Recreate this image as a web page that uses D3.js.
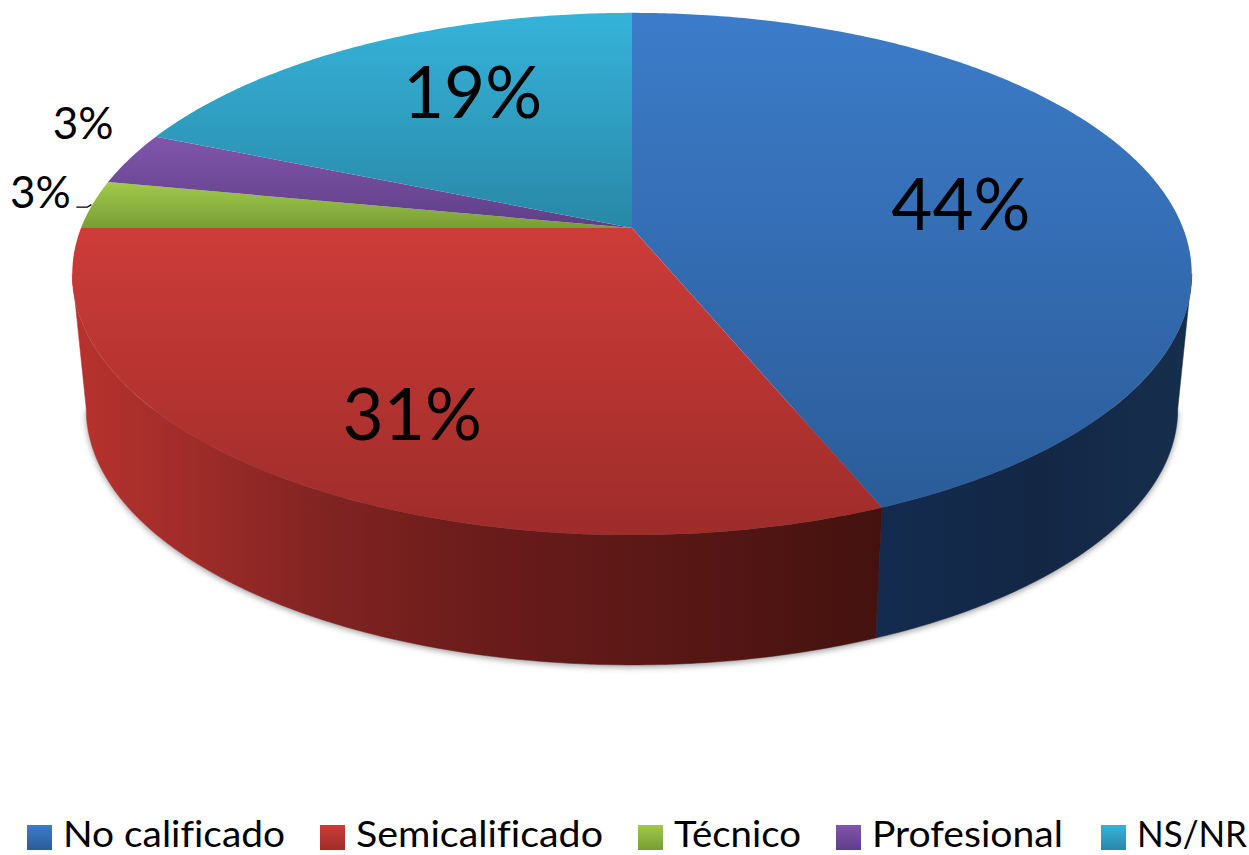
<!DOCTYPE html>
<html>
<head>
<meta charset="utf-8">
<script src="https://cdn.jsdelivr.net/npm/d3@7"></script>
<style>
  html, body { margin: 0; padding: 0; background: #fff; overflow: hidden; }
  text { font-family: Lato, "Open Sans", sans-serif; fill: #000; font-variant-ligatures: none; }
</style>
</head>
<body>
<div id="chart"></div>
<script>
var categories = ['No calificado', 'Semicalificado', 'Técnico', 'Profesional', 'NS/NR'];
var values = [43.8, 31.2, 3.0, 3.3, 18.7];
var topColours = ['#3c7cca', '#cd3c38', '#a2c94a', '#8156ac', '#36b3da'];
var lowColours = ['#2b5c99', '#9e2c2a', '#789e34', '#5e3e86', '#2888a7'];

var width = 1249,
    height = 855,
    cx = 632,
    cy = 228,
    persp = 0.176,      // foreshortening of the disc
    radiusX = 551,
    radiusY = 253,
    depth = 136,
    rimScaleX = 0.975,
    rimScaleY = 0.98;

// label placement, not data
var labelRadius = [0.6, 0.6, 1.1, 1.1, 0.6],
    labelNudge = [[11, 6], [-18, 49], [1, -10], [1, -28], [9, -19]],
    labelSize = [71, 71, 44, 44, 71],
    legendSwatchX = [27, 320, 638, 836, 1101],
    legendTextLength = [222, 247, 127, 191, 110];

var x = d3.scaleLinear().domain([-1, 1]).range([cx - radiusX, cx + radiusX]);
var y = d3.scaleLinear().domain([-1, 1]).range([cy - radiusY, cy + radiusY]);

// unit disc point -> screen, with a bit of perspective
function project(angle, r) {
  var u = Math.sin(angle) * r,
      v = -Math.cos(angle) * r,
      w = 1 - persp * v;
  return [x(u / w), y(v / w)];
}

function projectLow(angle) {
  var p = project(angle, 1);
  return [cx + rimScaleX * (p[0] - cx), cy + depth + rimScaleY * (p[1] - cy)];
}

function arcPoints(a0, a1, fn) {
  var n = Math.max(2, Math.ceil(Math.abs(a1 - a0) / 0.01)),
      pts = [];
  for (var i = 0; i <= n; i++) pts.push(fn(a0 + (a1 - a0) * i / n));
  return pts;
}

var line = d3.line();
var pie = d3.pie().sort(null).value(function(d) { return d; });
var slices = pie(values);

// where the disc is at its widest, the wall starts there
var wallFrom = Math.PI - Math.acos(persp),
    wallTo = Math.PI + Math.acos(persp);

var svg = d3.select('#chart').append('svg')
    .attr('width', width)
    .attr('height', height)
    .style('display', 'block');

var defs = svg.append('defs');

categories.forEach(function(c, i) {
  var g = defs.append('linearGradient')
      .attr('id', 'face' + i)
      .attr('x1', 0).attr('y1', 0).attr('x2', 0).attr('y2', 1);
  g.append('stop').attr('offset', 0).attr('stop-color', topColours[i]);
  g.append('stop').attr('offset', 1).attr('stop-color', lowColours[i]);
});

var redWall = defs.append('linearGradient')
    .attr('id', 'wall1')
    .attr('gradientUnits', 'userSpaceOnUse')
    .attr('x1', 75).attr('y1', 0).attr('x2', 880).attr('y2', 0);
[[0, '#b8322e'], [0.15, '#9e2c29'], [0.3, '#822422'], [0.5, '#6b1c1b'], [0.75, '#581715'], [1, '#44120e']].forEach(function(s) {
  redWall.append('stop').attr('offset', s[0]).attr('stop-color', s[1]);
});

var blueWall = defs.append('linearGradient')
    .attr('id', 'wall0')
    .attr('gradientUnits', 'userSpaceOnUse')
    .attr('x1', 880).attr('y1', 0).attr('x2', 1190).attr('y2', 0);
[[0, '#132b4f'], [0.5, '#132745'], [1, '#162e4d']].forEach(function(s) {
  blueWall.append('stop').attr('offset', s[0]).attr('stop-color', s[1]);
});

defs.append('filter')
    .attr('id', 'soft')
    .attr('x', '-5%').attr('y', '-5%').attr('width', '110%').attr('height', '110%')
  .append('feGaussianBlur')
    .attr('stdDeviation', 3);

// only the front of the side wall can be seen
var front = slices.map(function(d, i) {
  var a0 = Math.max(d.startAngle, wallFrom),
      a1 = Math.min(d.endAngle, wallTo);
  return a1 > a0 ? {i: i, a0: a0, a1: a1} : null;
}).filter(Boolean);

function wallPath(d) {
  var up = arcPoints(d.a0, d.a1, function(a) { return project(a, 1); }),
      low = arcPoints(d.a1, d.a0, projectLow);
  return line(up.concat(low)) + 'Z';
}

// soft shadow under the pie
svg.append('path')
    .attr('d', line(arcPoints(wallFrom, wallTo, projectLow).map(function(p) {
      return [p[0], p[1] + 2];
    })) + 'Z')
    .attr('fill', '#555')
    .attr('opacity', 0.6)
    .attr('filter', 'url(#soft)');

svg.append('g').selectAll('path')
    .data(front)
  .enter().append('path')
    .attr('d', wallPath)
    .attr('fill', function(d) { return 'url(#wall' + d.i + ')'; })
    .attr('stroke', function(d) { return 'url(#wall' + d.i + ')'; })
    .attr('stroke-width', 0.5);

svg.append('g').selectAll('path')
    .data(slices)
  .enter().append('path')
    .attr('d', function(d) {
      var rim = arcPoints(d.startAngle, d.endAngle, function(a) { return project(a, 1); });
      return line([[cx, cy]].concat(rim)) + 'Z';
    })
    .attr('fill', function(d, i) { return 'url(#face' + i + ')'; });

// data labels
svg.append('g').selectAll('text')
    .data(slices)
  .enter().append('text')
    .attr('transform', function(d, i) {
      var p = project((d.startAngle + d.endAngle) / 2, labelRadius[i]);
      return 'translate(' + (p[0] + labelNudge[i][0]) + ',' + (p[1] + labelNudge[i][1]) + ')';
    })
    .attr('text-anchor', 'middle')
    .attr('dy', '0.35em')
    .attr('font-size', function(d, i) { return labelSize[i]; })
    .text(function(d) { return Math.round(d.value) + '%'; });

// leader of the Técnico label
var tip = project((slices[2].startAngle + slices[2].endAngle) / 2, 1);
svg.append('path')
    .attr('d', line([[tip[0] - 16, tip[1] + 2.5], [tip[0] - 5, tip[1] + 2.5], [tip[0] - 1, tip[1]]]))
    .attr('fill', 'none')
    .attr('stroke', '#000')
    .attr('stroke-width', 1.3);

// legend
var legend = svg.append('g').selectAll('g')
    .data(categories)
  .enter().append('g')
    .attr('transform', function(d, i) { return 'translate(' + legendSwatchX[i] + ',825)'; });

legend.append('rect')
    .attr('width', 25)
    .attr('height', 25)
    .attr('fill', function(d, i) { return 'url(#face' + i + ')'; });

legend.append('text')
    .attr('x', 36)
    .attr('y', 22)
    .attr('font-size', 36)
    .attr('textLength', function(d, i) { return legendTextLength[i]; })
    .attr('lengthAdjust', 'spacingAndGlyphs')
    .text(function(d) { return d; });
</script>
</body>
</html>
